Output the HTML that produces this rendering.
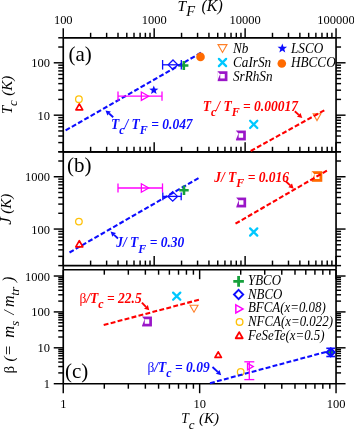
<!DOCTYPE html>
<html><head><meta charset="utf-8"><style>
html,body{margin:0;padding:0;background:#fff;}
svg{display:block;font-family:"Liberation Serif",serif;will-change:transform;}
</style></head><body>
<svg width="354" height="429" viewBox="0 0 354 429">
<line x1="63.25" y1="37.80" x2="63.25" y2="28.30" stroke="#000" stroke-width="1.45"/>
<line x1="90.62" y1="37.80" x2="90.62" y2="32.80" stroke="#000" stroke-width="1.45"/>
<line x1="106.64" y1="37.80" x2="106.64" y2="32.80" stroke="#000" stroke-width="1.45"/>
<line x1="118.00" y1="37.80" x2="118.00" y2="32.80" stroke="#000" stroke-width="1.45"/>
<line x1="126.81" y1="37.80" x2="126.81" y2="32.80" stroke="#000" stroke-width="1.45"/>
<line x1="134.01" y1="37.80" x2="134.01" y2="32.80" stroke="#000" stroke-width="1.45"/>
<line x1="140.10" y1="37.80" x2="140.10" y2="32.80" stroke="#000" stroke-width="1.45"/>
<line x1="145.37" y1="37.80" x2="145.37" y2="32.80" stroke="#000" stroke-width="1.45"/>
<line x1="150.02" y1="37.80" x2="150.02" y2="32.80" stroke="#000" stroke-width="1.45"/>
<line x1="154.18" y1="37.80" x2="154.18" y2="28.30" stroke="#000" stroke-width="1.45"/>
<line x1="181.56" y1="37.80" x2="181.56" y2="32.80" stroke="#000" stroke-width="1.45"/>
<line x1="197.57" y1="37.80" x2="197.57" y2="32.80" stroke="#000" stroke-width="1.45"/>
<line x1="208.93" y1="37.80" x2="208.93" y2="32.80" stroke="#000" stroke-width="1.45"/>
<line x1="217.74" y1="37.80" x2="217.74" y2="32.80" stroke="#000" stroke-width="1.45"/>
<line x1="224.94" y1="37.80" x2="224.94" y2="32.80" stroke="#000" stroke-width="1.45"/>
<line x1="231.03" y1="37.80" x2="231.03" y2="32.80" stroke="#000" stroke-width="1.45"/>
<line x1="236.30" y1="37.80" x2="236.30" y2="32.80" stroke="#000" stroke-width="1.45"/>
<line x1="240.96" y1="37.80" x2="240.96" y2="32.80" stroke="#000" stroke-width="1.45"/>
<line x1="245.12" y1="37.80" x2="245.12" y2="28.30" stroke="#000" stroke-width="1.45"/>
<line x1="272.49" y1="37.80" x2="272.49" y2="32.80" stroke="#000" stroke-width="1.45"/>
<line x1="288.50" y1="37.80" x2="288.50" y2="32.80" stroke="#000" stroke-width="1.45"/>
<line x1="299.86" y1="37.80" x2="299.86" y2="32.80" stroke="#000" stroke-width="1.45"/>
<line x1="308.68" y1="37.80" x2="308.68" y2="32.80" stroke="#000" stroke-width="1.45"/>
<line x1="315.88" y1="37.80" x2="315.88" y2="32.80" stroke="#000" stroke-width="1.45"/>
<line x1="321.96" y1="37.80" x2="321.96" y2="32.80" stroke="#000" stroke-width="1.45"/>
<line x1="327.24" y1="37.80" x2="327.24" y2="32.80" stroke="#000" stroke-width="1.45"/>
<line x1="331.89" y1="37.80" x2="331.89" y2="32.80" stroke="#000" stroke-width="1.45"/>
<line x1="336.05" y1="37.80" x2="336.05" y2="28.30" stroke="#000" stroke-width="1.45"/>
<line x1="63.25" y1="151.80" x2="63.25" y2="142.30" stroke="#000" stroke-width="1.45"/>
<line x1="90.62" y1="151.80" x2="90.62" y2="146.80" stroke="#000" stroke-width="1.45"/>
<line x1="106.64" y1="151.80" x2="106.64" y2="146.80" stroke="#000" stroke-width="1.45"/>
<line x1="118.00" y1="151.80" x2="118.00" y2="146.80" stroke="#000" stroke-width="1.45"/>
<line x1="126.81" y1="151.80" x2="126.81" y2="146.80" stroke="#000" stroke-width="1.45"/>
<line x1="134.01" y1="151.80" x2="134.01" y2="146.80" stroke="#000" stroke-width="1.45"/>
<line x1="140.10" y1="151.80" x2="140.10" y2="146.80" stroke="#000" stroke-width="1.45"/>
<line x1="145.37" y1="151.80" x2="145.37" y2="146.80" stroke="#000" stroke-width="1.45"/>
<line x1="150.02" y1="151.80" x2="150.02" y2="146.80" stroke="#000" stroke-width="1.45"/>
<line x1="154.18" y1="151.80" x2="154.18" y2="142.30" stroke="#000" stroke-width="1.45"/>
<line x1="181.56" y1="151.80" x2="181.56" y2="146.80" stroke="#000" stroke-width="1.45"/>
<line x1="197.57" y1="151.80" x2="197.57" y2="146.80" stroke="#000" stroke-width="1.45"/>
<line x1="208.93" y1="151.80" x2="208.93" y2="146.80" stroke="#000" stroke-width="1.45"/>
<line x1="217.74" y1="151.80" x2="217.74" y2="146.80" stroke="#000" stroke-width="1.45"/>
<line x1="224.94" y1="151.80" x2="224.94" y2="146.80" stroke="#000" stroke-width="1.45"/>
<line x1="231.03" y1="151.80" x2="231.03" y2="146.80" stroke="#000" stroke-width="1.45"/>
<line x1="236.30" y1="151.80" x2="236.30" y2="146.80" stroke="#000" stroke-width="1.45"/>
<line x1="240.96" y1="151.80" x2="240.96" y2="146.80" stroke="#000" stroke-width="1.45"/>
<line x1="245.12" y1="151.80" x2="245.12" y2="142.30" stroke="#000" stroke-width="1.45"/>
<line x1="272.49" y1="151.80" x2="272.49" y2="146.80" stroke="#000" stroke-width="1.45"/>
<line x1="288.50" y1="151.80" x2="288.50" y2="146.80" stroke="#000" stroke-width="1.45"/>
<line x1="299.86" y1="151.80" x2="299.86" y2="146.80" stroke="#000" stroke-width="1.45"/>
<line x1="308.68" y1="151.80" x2="308.68" y2="146.80" stroke="#000" stroke-width="1.45"/>
<line x1="315.88" y1="151.80" x2="315.88" y2="146.80" stroke="#000" stroke-width="1.45"/>
<line x1="321.96" y1="151.80" x2="321.96" y2="146.80" stroke="#000" stroke-width="1.45"/>
<line x1="327.24" y1="151.80" x2="327.24" y2="146.80" stroke="#000" stroke-width="1.45"/>
<line x1="331.89" y1="151.80" x2="331.89" y2="146.80" stroke="#000" stroke-width="1.45"/>
<line x1="336.05" y1="151.80" x2="336.05" y2="142.30" stroke="#000" stroke-width="1.45"/>
<line x1="63.25" y1="265.60" x2="63.25" y2="256.10" stroke="#000" stroke-width="1.45"/>
<line x1="90.62" y1="265.60" x2="90.62" y2="260.60" stroke="#000" stroke-width="1.45"/>
<line x1="106.64" y1="265.60" x2="106.64" y2="260.60" stroke="#000" stroke-width="1.45"/>
<line x1="118.00" y1="265.60" x2="118.00" y2="260.60" stroke="#000" stroke-width="1.45"/>
<line x1="126.81" y1="265.60" x2="126.81" y2="260.60" stroke="#000" stroke-width="1.45"/>
<line x1="134.01" y1="265.60" x2="134.01" y2="260.60" stroke="#000" stroke-width="1.45"/>
<line x1="140.10" y1="265.60" x2="140.10" y2="260.60" stroke="#000" stroke-width="1.45"/>
<line x1="145.37" y1="265.60" x2="145.37" y2="260.60" stroke="#000" stroke-width="1.45"/>
<line x1="150.02" y1="265.60" x2="150.02" y2="260.60" stroke="#000" stroke-width="1.45"/>
<line x1="154.18" y1="265.60" x2="154.18" y2="256.10" stroke="#000" stroke-width="1.45"/>
<line x1="181.56" y1="265.60" x2="181.56" y2="260.60" stroke="#000" stroke-width="1.45"/>
<line x1="197.57" y1="265.60" x2="197.57" y2="260.60" stroke="#000" stroke-width="1.45"/>
<line x1="208.93" y1="265.60" x2="208.93" y2="260.60" stroke="#000" stroke-width="1.45"/>
<line x1="217.74" y1="265.60" x2="217.74" y2="260.60" stroke="#000" stroke-width="1.45"/>
<line x1="224.94" y1="265.60" x2="224.94" y2="260.60" stroke="#000" stroke-width="1.45"/>
<line x1="231.03" y1="265.60" x2="231.03" y2="260.60" stroke="#000" stroke-width="1.45"/>
<line x1="236.30" y1="265.60" x2="236.30" y2="260.60" stroke="#000" stroke-width="1.45"/>
<line x1="240.96" y1="265.60" x2="240.96" y2="260.60" stroke="#000" stroke-width="1.45"/>
<line x1="245.12" y1="265.60" x2="245.12" y2="256.10" stroke="#000" stroke-width="1.45"/>
<line x1="272.49" y1="265.60" x2="272.49" y2="260.60" stroke="#000" stroke-width="1.45"/>
<line x1="288.50" y1="265.60" x2="288.50" y2="260.60" stroke="#000" stroke-width="1.45"/>
<line x1="299.86" y1="265.60" x2="299.86" y2="260.60" stroke="#000" stroke-width="1.45"/>
<line x1="308.68" y1="265.60" x2="308.68" y2="260.60" stroke="#000" stroke-width="1.45"/>
<line x1="315.88" y1="265.60" x2="315.88" y2="260.60" stroke="#000" stroke-width="1.45"/>
<line x1="321.96" y1="265.60" x2="321.96" y2="260.60" stroke="#000" stroke-width="1.45"/>
<line x1="327.24" y1="265.60" x2="327.24" y2="260.60" stroke="#000" stroke-width="1.45"/>
<line x1="331.89" y1="265.60" x2="331.89" y2="260.60" stroke="#000" stroke-width="1.45"/>
<line x1="336.05" y1="265.60" x2="336.05" y2="256.10" stroke="#000" stroke-width="1.45"/>
<line x1="63.25" y1="269.70" x2="63.25" y2="279.20" stroke="#000" stroke-width="1.45"/>
<line x1="104.31" y1="269.70" x2="104.31" y2="274.70" stroke="#000" stroke-width="1.45"/>
<line x1="128.33" y1="269.70" x2="128.33" y2="274.70" stroke="#000" stroke-width="1.45"/>
<line x1="145.37" y1="269.70" x2="145.37" y2="274.70" stroke="#000" stroke-width="1.45"/>
<line x1="158.59" y1="269.70" x2="158.59" y2="274.70" stroke="#000" stroke-width="1.45"/>
<line x1="169.39" y1="269.70" x2="169.39" y2="274.70" stroke="#000" stroke-width="1.45"/>
<line x1="178.52" y1="269.70" x2="178.52" y2="274.70" stroke="#000" stroke-width="1.45"/>
<line x1="186.43" y1="269.70" x2="186.43" y2="274.70" stroke="#000" stroke-width="1.45"/>
<line x1="193.41" y1="269.70" x2="193.41" y2="274.70" stroke="#000" stroke-width="1.45"/>
<line x1="199.65" y1="269.70" x2="199.65" y2="279.20" stroke="#000" stroke-width="1.45"/>
<line x1="240.71" y1="269.70" x2="240.71" y2="274.70" stroke="#000" stroke-width="1.45"/>
<line x1="264.73" y1="269.70" x2="264.73" y2="274.70" stroke="#000" stroke-width="1.45"/>
<line x1="281.77" y1="269.70" x2="281.77" y2="274.70" stroke="#000" stroke-width="1.45"/>
<line x1="294.99" y1="269.70" x2="294.99" y2="274.70" stroke="#000" stroke-width="1.45"/>
<line x1="305.79" y1="269.70" x2="305.79" y2="274.70" stroke="#000" stroke-width="1.45"/>
<line x1="314.92" y1="269.70" x2="314.92" y2="274.70" stroke="#000" stroke-width="1.45"/>
<line x1="322.83" y1="269.70" x2="322.83" y2="274.70" stroke="#000" stroke-width="1.45"/>
<line x1="329.81" y1="269.70" x2="329.81" y2="274.70" stroke="#000" stroke-width="1.45"/>
<line x1="336.05" y1="269.70" x2="336.05" y2="279.20" stroke="#000" stroke-width="1.45"/>
<line x1="63.25" y1="383.70" x2="63.25" y2="393.20" stroke="#000" stroke-width="1.45"/>
<line x1="104.31" y1="383.70" x2="104.31" y2="388.70" stroke="#000" stroke-width="1.45"/>
<line x1="128.33" y1="383.70" x2="128.33" y2="388.70" stroke="#000" stroke-width="1.45"/>
<line x1="145.37" y1="383.70" x2="145.37" y2="388.70" stroke="#000" stroke-width="1.45"/>
<line x1="158.59" y1="383.70" x2="158.59" y2="388.70" stroke="#000" stroke-width="1.45"/>
<line x1="169.39" y1="383.70" x2="169.39" y2="388.70" stroke="#000" stroke-width="1.45"/>
<line x1="178.52" y1="383.70" x2="178.52" y2="388.70" stroke="#000" stroke-width="1.45"/>
<line x1="186.43" y1="383.70" x2="186.43" y2="388.70" stroke="#000" stroke-width="1.45"/>
<line x1="193.41" y1="383.70" x2="193.41" y2="388.70" stroke="#000" stroke-width="1.45"/>
<line x1="199.65" y1="383.70" x2="199.65" y2="393.20" stroke="#000" stroke-width="1.45"/>
<line x1="240.71" y1="383.70" x2="240.71" y2="388.70" stroke="#000" stroke-width="1.45"/>
<line x1="264.73" y1="383.70" x2="264.73" y2="388.70" stroke="#000" stroke-width="1.45"/>
<line x1="281.77" y1="383.70" x2="281.77" y2="388.70" stroke="#000" stroke-width="1.45"/>
<line x1="294.99" y1="383.70" x2="294.99" y2="388.70" stroke="#000" stroke-width="1.45"/>
<line x1="305.79" y1="383.70" x2="305.79" y2="388.70" stroke="#000" stroke-width="1.45"/>
<line x1="314.92" y1="383.70" x2="314.92" y2="388.70" stroke="#000" stroke-width="1.45"/>
<line x1="322.83" y1="383.70" x2="322.83" y2="388.70" stroke="#000" stroke-width="1.45"/>
<line x1="329.81" y1="383.70" x2="329.81" y2="388.70" stroke="#000" stroke-width="1.45"/>
<line x1="336.05" y1="383.70" x2="336.05" y2="393.20" stroke="#000" stroke-width="1.45"/>
<line x1="63.25" y1="151.80" x2="58.25" y2="151.80" stroke="#000" stroke-width="1.45"/>
<line x1="336.05" y1="151.80" x2="341.05" y2="151.80" stroke="#000" stroke-width="1.45"/>
<line x1="63.25" y1="142.58" x2="58.25" y2="142.58" stroke="#000" stroke-width="1.45"/>
<line x1="336.05" y1="142.58" x2="341.05" y2="142.58" stroke="#000" stroke-width="1.45"/>
<line x1="63.25" y1="136.03" x2="58.25" y2="136.03" stroke="#000" stroke-width="1.45"/>
<line x1="336.05" y1="136.03" x2="341.05" y2="136.03" stroke="#000" stroke-width="1.45"/>
<line x1="63.25" y1="130.95" x2="58.25" y2="130.95" stroke="#000" stroke-width="1.45"/>
<line x1="336.05" y1="130.95" x2="341.05" y2="130.95" stroke="#000" stroke-width="1.45"/>
<line x1="63.25" y1="126.80" x2="58.25" y2="126.80" stroke="#000" stroke-width="1.45"/>
<line x1="336.05" y1="126.80" x2="341.05" y2="126.80" stroke="#000" stroke-width="1.45"/>
<line x1="63.25" y1="123.30" x2="58.25" y2="123.30" stroke="#000" stroke-width="1.45"/>
<line x1="336.05" y1="123.30" x2="341.05" y2="123.30" stroke="#000" stroke-width="1.45"/>
<line x1="63.25" y1="120.26" x2="58.25" y2="120.26" stroke="#000" stroke-width="1.45"/>
<line x1="336.05" y1="120.26" x2="341.05" y2="120.26" stroke="#000" stroke-width="1.45"/>
<line x1="63.25" y1="117.58" x2="58.25" y2="117.58" stroke="#000" stroke-width="1.45"/>
<line x1="336.05" y1="117.58" x2="341.05" y2="117.58" stroke="#000" stroke-width="1.45"/>
<line x1="63.25" y1="115.18" x2="53.75" y2="115.18" stroke="#000" stroke-width="1.45"/>
<line x1="336.05" y1="115.18" x2="345.55" y2="115.18" stroke="#000" stroke-width="1.45"/>
<line x1="63.25" y1="99.41" x2="58.25" y2="99.41" stroke="#000" stroke-width="1.45"/>
<line x1="336.05" y1="99.41" x2="341.05" y2="99.41" stroke="#000" stroke-width="1.45"/>
<line x1="63.25" y1="90.19" x2="58.25" y2="90.19" stroke="#000" stroke-width="1.45"/>
<line x1="336.05" y1="90.19" x2="341.05" y2="90.19" stroke="#000" stroke-width="1.45"/>
<line x1="63.25" y1="83.64" x2="58.25" y2="83.64" stroke="#000" stroke-width="1.45"/>
<line x1="336.05" y1="83.64" x2="341.05" y2="83.64" stroke="#000" stroke-width="1.45"/>
<line x1="63.25" y1="78.57" x2="58.25" y2="78.57" stroke="#000" stroke-width="1.45"/>
<line x1="336.05" y1="78.57" x2="341.05" y2="78.57" stroke="#000" stroke-width="1.45"/>
<line x1="63.25" y1="74.42" x2="58.25" y2="74.42" stroke="#000" stroke-width="1.45"/>
<line x1="336.05" y1="74.42" x2="341.05" y2="74.42" stroke="#000" stroke-width="1.45"/>
<line x1="63.25" y1="70.91" x2="58.25" y2="70.91" stroke="#000" stroke-width="1.45"/>
<line x1="336.05" y1="70.91" x2="341.05" y2="70.91" stroke="#000" stroke-width="1.45"/>
<line x1="63.25" y1="67.87" x2="58.25" y2="67.87" stroke="#000" stroke-width="1.45"/>
<line x1="336.05" y1="67.87" x2="341.05" y2="67.87" stroke="#000" stroke-width="1.45"/>
<line x1="63.25" y1="65.19" x2="58.25" y2="65.19" stroke="#000" stroke-width="1.45"/>
<line x1="336.05" y1="65.19" x2="341.05" y2="65.19" stroke="#000" stroke-width="1.45"/>
<line x1="63.25" y1="62.80" x2="53.75" y2="62.80" stroke="#000" stroke-width="1.45"/>
<line x1="336.05" y1="62.80" x2="345.55" y2="62.80" stroke="#000" stroke-width="1.45"/>
<line x1="63.25" y1="47.02" x2="58.25" y2="47.02" stroke="#000" stroke-width="1.45"/>
<line x1="336.05" y1="47.02" x2="341.05" y2="47.02" stroke="#000" stroke-width="1.45"/>
<line x1="63.25" y1="37.80" x2="58.25" y2="37.80" stroke="#000" stroke-width="1.45"/>
<line x1="336.05" y1="37.80" x2="341.05" y2="37.80" stroke="#000" stroke-width="1.45"/>
<line x1="63.25" y1="265.60" x2="58.25" y2="265.60" stroke="#000" stroke-width="1.45"/>
<line x1="336.05" y1="265.60" x2="341.05" y2="265.60" stroke="#000" stroke-width="1.45"/>
<line x1="63.25" y1="256.39" x2="58.25" y2="256.39" stroke="#000" stroke-width="1.45"/>
<line x1="336.05" y1="256.39" x2="341.05" y2="256.39" stroke="#000" stroke-width="1.45"/>
<line x1="63.25" y1="249.86" x2="58.25" y2="249.86" stroke="#000" stroke-width="1.45"/>
<line x1="336.05" y1="249.86" x2="341.05" y2="249.86" stroke="#000" stroke-width="1.45"/>
<line x1="63.25" y1="244.79" x2="58.25" y2="244.79" stroke="#000" stroke-width="1.45"/>
<line x1="336.05" y1="244.79" x2="341.05" y2="244.79" stroke="#000" stroke-width="1.45"/>
<line x1="63.25" y1="240.65" x2="58.25" y2="240.65" stroke="#000" stroke-width="1.45"/>
<line x1="336.05" y1="240.65" x2="341.05" y2="240.65" stroke="#000" stroke-width="1.45"/>
<line x1="63.25" y1="237.15" x2="58.25" y2="237.15" stroke="#000" stroke-width="1.45"/>
<line x1="336.05" y1="237.15" x2="341.05" y2="237.15" stroke="#000" stroke-width="1.45"/>
<line x1="63.25" y1="234.11" x2="58.25" y2="234.11" stroke="#000" stroke-width="1.45"/>
<line x1="336.05" y1="234.11" x2="341.05" y2="234.11" stroke="#000" stroke-width="1.45"/>
<line x1="63.25" y1="231.44" x2="58.25" y2="231.44" stroke="#000" stroke-width="1.45"/>
<line x1="336.05" y1="231.44" x2="341.05" y2="231.44" stroke="#000" stroke-width="1.45"/>
<line x1="63.25" y1="229.05" x2="53.75" y2="229.05" stroke="#000" stroke-width="1.45"/>
<line x1="336.05" y1="229.05" x2="345.55" y2="229.05" stroke="#000" stroke-width="1.45"/>
<line x1="63.25" y1="213.30" x2="58.25" y2="213.30" stroke="#000" stroke-width="1.45"/>
<line x1="336.05" y1="213.30" x2="341.05" y2="213.30" stroke="#000" stroke-width="1.45"/>
<line x1="63.25" y1="204.10" x2="58.25" y2="204.10" stroke="#000" stroke-width="1.45"/>
<line x1="336.05" y1="204.10" x2="341.05" y2="204.10" stroke="#000" stroke-width="1.45"/>
<line x1="63.25" y1="197.56" x2="58.25" y2="197.56" stroke="#000" stroke-width="1.45"/>
<line x1="336.05" y1="197.56" x2="341.05" y2="197.56" stroke="#000" stroke-width="1.45"/>
<line x1="63.25" y1="192.49" x2="58.25" y2="192.49" stroke="#000" stroke-width="1.45"/>
<line x1="336.05" y1="192.49" x2="341.05" y2="192.49" stroke="#000" stroke-width="1.45"/>
<line x1="63.25" y1="188.35" x2="58.25" y2="188.35" stroke="#000" stroke-width="1.45"/>
<line x1="336.05" y1="188.35" x2="341.05" y2="188.35" stroke="#000" stroke-width="1.45"/>
<line x1="63.25" y1="184.85" x2="58.25" y2="184.85" stroke="#000" stroke-width="1.45"/>
<line x1="336.05" y1="184.85" x2="341.05" y2="184.85" stroke="#000" stroke-width="1.45"/>
<line x1="63.25" y1="181.82" x2="58.25" y2="181.82" stroke="#000" stroke-width="1.45"/>
<line x1="336.05" y1="181.82" x2="341.05" y2="181.82" stroke="#000" stroke-width="1.45"/>
<line x1="63.25" y1="179.14" x2="58.25" y2="179.14" stroke="#000" stroke-width="1.45"/>
<line x1="336.05" y1="179.14" x2="341.05" y2="179.14" stroke="#000" stroke-width="1.45"/>
<line x1="63.25" y1="176.75" x2="53.75" y2="176.75" stroke="#000" stroke-width="1.45"/>
<line x1="336.05" y1="176.75" x2="345.55" y2="176.75" stroke="#000" stroke-width="1.45"/>
<line x1="63.25" y1="161.01" x2="58.25" y2="161.01" stroke="#000" stroke-width="1.45"/>
<line x1="336.05" y1="161.01" x2="341.05" y2="161.01" stroke="#000" stroke-width="1.45"/>
<line x1="63.25" y1="151.80" x2="58.25" y2="151.80" stroke="#000" stroke-width="1.45"/>
<line x1="336.05" y1="151.80" x2="341.05" y2="151.80" stroke="#000" stroke-width="1.45"/>
<line x1="63.25" y1="383.70" x2="53.75" y2="383.70" stroke="#000" stroke-width="1.45"/>
<line x1="336.05" y1="383.70" x2="345.55" y2="383.70" stroke="#000" stroke-width="1.45"/>
<line x1="63.25" y1="372.90" x2="58.25" y2="372.90" stroke="#000" stroke-width="1.45"/>
<line x1="336.05" y1="372.90" x2="341.05" y2="372.90" stroke="#000" stroke-width="1.45"/>
<line x1="63.25" y1="366.57" x2="58.25" y2="366.57" stroke="#000" stroke-width="1.45"/>
<line x1="336.05" y1="366.57" x2="341.05" y2="366.57" stroke="#000" stroke-width="1.45"/>
<line x1="63.25" y1="362.09" x2="58.25" y2="362.09" stroke="#000" stroke-width="1.45"/>
<line x1="336.05" y1="362.09" x2="341.05" y2="362.09" stroke="#000" stroke-width="1.45"/>
<line x1="63.25" y1="358.61" x2="58.25" y2="358.61" stroke="#000" stroke-width="1.45"/>
<line x1="336.05" y1="358.61" x2="341.05" y2="358.61" stroke="#000" stroke-width="1.45"/>
<line x1="63.25" y1="355.77" x2="58.25" y2="355.77" stroke="#000" stroke-width="1.45"/>
<line x1="336.05" y1="355.77" x2="341.05" y2="355.77" stroke="#000" stroke-width="1.45"/>
<line x1="63.25" y1="353.37" x2="58.25" y2="353.37" stroke="#000" stroke-width="1.45"/>
<line x1="336.05" y1="353.37" x2="341.05" y2="353.37" stroke="#000" stroke-width="1.45"/>
<line x1="63.25" y1="351.29" x2="58.25" y2="351.29" stroke="#000" stroke-width="1.45"/>
<line x1="336.05" y1="351.29" x2="341.05" y2="351.29" stroke="#000" stroke-width="1.45"/>
<line x1="63.25" y1="349.45" x2="58.25" y2="349.45" stroke="#000" stroke-width="1.45"/>
<line x1="336.05" y1="349.45" x2="341.05" y2="349.45" stroke="#000" stroke-width="1.45"/>
<line x1="63.25" y1="347.81" x2="53.75" y2="347.81" stroke="#000" stroke-width="1.45"/>
<line x1="336.05" y1="347.81" x2="345.55" y2="347.81" stroke="#000" stroke-width="1.45"/>
<line x1="63.25" y1="337.00" x2="58.25" y2="337.00" stroke="#000" stroke-width="1.45"/>
<line x1="336.05" y1="337.00" x2="341.05" y2="337.00" stroke="#000" stroke-width="1.45"/>
<line x1="63.25" y1="330.68" x2="58.25" y2="330.68" stroke="#000" stroke-width="1.45"/>
<line x1="336.05" y1="330.68" x2="341.05" y2="330.68" stroke="#000" stroke-width="1.45"/>
<line x1="63.25" y1="326.20" x2="58.25" y2="326.20" stroke="#000" stroke-width="1.45"/>
<line x1="336.05" y1="326.20" x2="341.05" y2="326.20" stroke="#000" stroke-width="1.45"/>
<line x1="63.25" y1="322.72" x2="58.25" y2="322.72" stroke="#000" stroke-width="1.45"/>
<line x1="336.05" y1="322.72" x2="341.05" y2="322.72" stroke="#000" stroke-width="1.45"/>
<line x1="63.25" y1="319.88" x2="58.25" y2="319.88" stroke="#000" stroke-width="1.45"/>
<line x1="336.05" y1="319.88" x2="341.05" y2="319.88" stroke="#000" stroke-width="1.45"/>
<line x1="63.25" y1="317.47" x2="58.25" y2="317.47" stroke="#000" stroke-width="1.45"/>
<line x1="336.05" y1="317.47" x2="341.05" y2="317.47" stroke="#000" stroke-width="1.45"/>
<line x1="63.25" y1="315.39" x2="58.25" y2="315.39" stroke="#000" stroke-width="1.45"/>
<line x1="336.05" y1="315.39" x2="341.05" y2="315.39" stroke="#000" stroke-width="1.45"/>
<line x1="63.25" y1="313.56" x2="58.25" y2="313.56" stroke="#000" stroke-width="1.45"/>
<line x1="336.05" y1="313.56" x2="341.05" y2="313.56" stroke="#000" stroke-width="1.45"/>
<line x1="63.25" y1="311.91" x2="53.75" y2="311.91" stroke="#000" stroke-width="1.45"/>
<line x1="336.05" y1="311.91" x2="345.55" y2="311.91" stroke="#000" stroke-width="1.45"/>
<line x1="63.25" y1="301.11" x2="58.25" y2="301.11" stroke="#000" stroke-width="1.45"/>
<line x1="336.05" y1="301.11" x2="341.05" y2="301.11" stroke="#000" stroke-width="1.45"/>
<line x1="63.25" y1="294.79" x2="58.25" y2="294.79" stroke="#000" stroke-width="1.45"/>
<line x1="336.05" y1="294.79" x2="341.05" y2="294.79" stroke="#000" stroke-width="1.45"/>
<line x1="63.25" y1="290.30" x2="58.25" y2="290.30" stroke="#000" stroke-width="1.45"/>
<line x1="336.05" y1="290.30" x2="341.05" y2="290.30" stroke="#000" stroke-width="1.45"/>
<line x1="63.25" y1="286.83" x2="58.25" y2="286.83" stroke="#000" stroke-width="1.45"/>
<line x1="336.05" y1="286.83" x2="341.05" y2="286.83" stroke="#000" stroke-width="1.45"/>
<line x1="63.25" y1="283.98" x2="58.25" y2="283.98" stroke="#000" stroke-width="1.45"/>
<line x1="336.05" y1="283.98" x2="341.05" y2="283.98" stroke="#000" stroke-width="1.45"/>
<line x1="63.25" y1="281.58" x2="58.25" y2="281.58" stroke="#000" stroke-width="1.45"/>
<line x1="336.05" y1="281.58" x2="341.05" y2="281.58" stroke="#000" stroke-width="1.45"/>
<line x1="63.25" y1="279.50" x2="58.25" y2="279.50" stroke="#000" stroke-width="1.45"/>
<line x1="336.05" y1="279.50" x2="341.05" y2="279.50" stroke="#000" stroke-width="1.45"/>
<line x1="63.25" y1="277.66" x2="58.25" y2="277.66" stroke="#000" stroke-width="1.45"/>
<line x1="336.05" y1="277.66" x2="341.05" y2="277.66" stroke="#000" stroke-width="1.45"/>
<line x1="63.25" y1="276.02" x2="53.75" y2="276.02" stroke="#000" stroke-width="1.45"/>
<line x1="336.05" y1="276.02" x2="345.55" y2="276.02" stroke="#000" stroke-width="1.45"/>
<line x1="63.25" y1="37.80" x2="336.05" y2="37.80" stroke="#000" stroke-width="1.65"/>
<line x1="63.25" y1="151.80" x2="336.05" y2="151.80" stroke="#000" stroke-width="1.65"/>
<line x1="63.25" y1="37.80" x2="63.25" y2="151.80" stroke="#000" stroke-width="1.65"/>
<line x1="336.05" y1="37.80" x2="336.05" y2="151.80" stroke="#000" stroke-width="1.65"/>
<line x1="63.25" y1="151.80" x2="336.05" y2="151.80" stroke="#000" stroke-width="1.65"/>
<line x1="63.25" y1="265.60" x2="336.05" y2="265.60" stroke="#000" stroke-width="1.65"/>
<line x1="63.25" y1="151.80" x2="63.25" y2="265.60" stroke="#000" stroke-width="1.65"/>
<line x1="336.05" y1="151.80" x2="336.05" y2="265.60" stroke="#000" stroke-width="1.65"/>
<line x1="63.25" y1="269.70" x2="336.05" y2="269.70" stroke="#000" stroke-width="1.65"/>
<line x1="63.25" y1="383.70" x2="336.05" y2="383.70" stroke="#000" stroke-width="1.65"/>
<line x1="63.25" y1="269.70" x2="63.25" y2="383.70" stroke="#000" stroke-width="1.65"/>
<line x1="336.05" y1="269.70" x2="336.05" y2="383.70" stroke="#000" stroke-width="1.65"/>
<line x1="63.25" y1="265.60" x2="63.25" y2="269.70" stroke="#000" stroke-width="1.65"/>
<line x1="336.05" y1="265.60" x2="336.05" y2="269.70" stroke="#000" stroke-width="1.65"/>
<text transform="translate(63.25,23.90) scale(1,1.07)" text-anchor="middle" font-size="12.5" fill="#000"  >100</text>
<text transform="translate(154.18,23.90) scale(1,1.07)" text-anchor="middle" font-size="12.5" fill="#000"  >1000</text>
<text transform="translate(245.12,23.90) scale(1,1.07)" text-anchor="middle" font-size="12.5" fill="#000"  >10000</text>
<text transform="translate(336.05,23.90) scale(1,1.07)" text-anchor="middle" font-size="12.5" fill="#000"  >100000</text>
<text transform="translate(63.25,408.40) scale(1,1.07)" text-anchor="middle" font-size="12.5" fill="#000"  >1</text>
<text transform="translate(199.65,408.40) scale(1,1.07)" text-anchor="middle" font-size="12.5" fill="#000"  >10</text>
<text transform="translate(336.05,408.40) scale(1,1.07)" text-anchor="middle" font-size="12.5" fill="#000"  >100</text>
<text transform="translate(50.00,67.30) scale(1,1.07)" text-anchor="end" font-size="12.5" fill="#000"  >100</text>
<text transform="translate(50.00,119.68) scale(1,1.07)" text-anchor="end" font-size="12.5" fill="#000"  >10</text>
<text transform="translate(50.00,181.25) scale(1,1.07)" text-anchor="end" font-size="12.5" fill="#000"  >1000</text>
<text transform="translate(50.00,233.55) scale(1,1.07)" text-anchor="end" font-size="12.5" fill="#000"  >100</text>
<text transform="translate(50.00,280.52) scale(1,1.07)" text-anchor="end" font-size="12.5" fill="#000"  >1000</text>
<text transform="translate(50.00,316.41) scale(1,1.07)" text-anchor="end" font-size="12.5" fill="#000"  >100</text>
<text transform="translate(50.00,352.31) scale(1,1.07)" text-anchor="end" font-size="12.5" fill="#000"  >10</text>
<text transform="translate(50.00,388.20) scale(1,1.07)" text-anchor="end" font-size="12.5" fill="#000"  >1</text>
<text x="177.6" y="11.0" font-size="15.5" font-style="italic">T<tspan font-size="14.5" dy="4.8">F</tspan></text>
<text x="201.6" y="11.2" font-size="15.8" font-style="italic">(K)</text>
<text x="181.3" y="423.2" font-size="13.6" font-style="italic">T<tspan font-size="13" dy="5.6">c</tspan></text>
<text x="198.9" y="423.3" font-size="15" font-style="italic">(K)</text>
<text transform="translate(12.4,114) rotate(-90)" font-size="14.5" font-style="italic">T<tspan font-size="13" dy="5">c</tspan><tspan dy="-5" dx="4.5" font-size="15">(K)</tspan></text>
<text transform="translate(10.6,224.8) rotate(-90)" font-size="17" font-style="italic">J<tspan dx="3.6" font-size="15">(K)</tspan></text>
<g transform="translate(14,373.3) rotate(-90)" font-size="15"><text x="-0.2" y="0">β</text><text x="11.8" y="0" font-style="italic">(</text><text x="18.3" y="0" font-size="16.5">=</text><text x="35.5" y="0" font-size="16.5" font-style="italic">m</text><text x="47.3" y="4.5" font-size="13" font-style="italic">s</text><text x="58.8" y="0" font-style="italic">/</text><text x="66.2" y="0" font-size="16" font-style="italic">m</text><text x="77.6" y="4.7" font-size="13.5" font-style="italic">tr</text><text x="91.4" y="0" font-size="16" font-style="italic">)</text></g>
<text x="68.5" y="60.5" font-size="21">(a)</text>
<text x="67" y="172" font-size="21">(b)</text>
<text x="65" y="377.5" font-size="21">(c)</text>
<line x1="65.6" y1="130.4" x2="202.5" y2="51.9" stroke="#0d0dff" stroke-width="2.1" stroke-dasharray="4.9,2.3"/>
<circle cx="78.9" cy="99.2" r="3.3" fill="none" stroke="#ffc20a" stroke-width="1.3"/>
<path d="M79.3,103.89999999999999 L82.7,109.85 L75.89999999999999,109.85 Z" fill="none" stroke="#ff0000" stroke-width="1.7" stroke-linejoin="round"/>
<line x1="118.00" y1="96.20" x2="162.00" y2="96.20" stroke="#ff00ff" stroke-width="1.3"/>
<line x1="118.00" y1="91.60" x2="118.00" y2="100.80" stroke="#ff00ff" stroke-width="1.3"/>
<line x1="162.00" y1="91.60" x2="162.00" y2="100.80" stroke="#ff00ff" stroke-width="1.3"/>
<path d="M141.35,92.0 L148.7,96.2 L141.35,100.4 Z" fill="none" stroke="#ff00ff" stroke-width="1.3"/>
<polygon points="153.80,85.40 154.98,88.57 158.37,88.72 155.72,90.82 156.62,94.08 153.80,92.22 150.98,94.08 151.88,90.82 149.23,88.72 152.62,88.57" fill="#0d0dff"/>
<path d="M179.20000000000002,65.5 L188.4,65.5 M183.8,60.9 L183.8,70.1" stroke="#16a03c" stroke-width="2.6"/>
<line x1="162.60" y1="64.80" x2="181.30" y2="64.80" stroke="#0d0dff" stroke-width="1.3"/>
<line x1="162.60" y1="60.00" x2="162.60" y2="69.60" stroke="#0d0dff" stroke-width="1.3"/>
<line x1="181.30" y1="60.00" x2="181.30" y2="69.60" stroke="#0d0dff" stroke-width="1.3"/>
<path d="M173.0,60.0 L177.8,64.8 L173.0,69.6 L168.2,64.8 Z" fill="none" stroke="#0d0dff" stroke-width="1.3"/>
<circle cx="200.5" cy="56.9" r="4.3" fill="#ff6a00" stroke="#ff6a00" stroke-width="0"/>
<path d="M313.1,113.775 L320.9,113.775 L317.0,120.60000000000001 Z" fill="none" stroke="#ff7f27" stroke-width="1.1"/>
<line x1="250.7" y1="151.0" x2="325.2" y2="109.8" stroke="#ff0000" stroke-width="2.1" stroke-dasharray="4.9,2.3"/>
<path d="M250.1,120.80000000000001 L257.3,128.0 M257.3,120.80000000000001 L250.1,128.0" stroke="#00c8ff" stroke-width="2.3" stroke-linecap="round"/>
<rect x="237.30" y="131.90" width="7.20" height="7.20" fill="none" stroke="#9a16c8" stroke-width="2.7"/>
<path d="M235.75,130.45 L238.45,133.45 L235.55,140.45 Z" fill="#fff"/>
<line x1="113.2" y1="117.2" x2="109.10" y2="113.58" stroke="#0d0dff" stroke-width="1.9"/>
<path d="M105.5,110.4 L110.85,111.60 L107.35,115.56 Z" fill="#0d0dff"/>
<line x1="294.8" y1="111.3" x2="298.74" y2="114.88" stroke="#ff0000" stroke-width="1.9"/>
<path d="M302.3,118.1 L296.97,116.83 L300.52,112.92 Z" fill="#ff0000"/>
<text transform="translate(110.9,129.3) scale(1,1.07)" font-size="13.5" fill="#0d0dff" font-weight="bold" font-style="italic">T<tspan font-size="12" dy="4.4">c</tspan><tspan dy="-4.4">/ T</tspan><tspan font-size="12" dy="4.4">F</tspan><tspan dy="-4.4"> = 0.047</tspan></text>
<text transform="translate(202.7,110.8) scale(1,1.07)" font-size="13.5" fill="#ff0000" font-weight="bold" font-style="italic">T<tspan font-size="12" dy="4.4">c</tspan><tspan dy="-4.4">/ T</tspan><tspan font-size="12" dy="4.4">F</tspan><tspan dy="-4.4"> = 0.00017</tspan></text>
<path d="M218.0,44.625 L227.0,44.625 L222.5,52.5 Z" fill="none" stroke="#ff7f27" stroke-width="1.1"/>
<path d="M218.9,58.9 L226.1,66.1 M226.1,58.9 L218.9,66.1" stroke="#00c8ff" stroke-width="2.3" stroke-linecap="round"/>
<rect x="218.90" y="72.60" width="7.20" height="7.20" fill="none" stroke="#9a16c8" stroke-width="2.7"/>
<path d="M217.35,71.15 L220.05,74.15 L217.15,81.15 Z" fill="#fff"/>
<polygon points="282.30,43.40 283.53,46.70 287.06,46.85 284.30,49.05 285.24,52.45 282.30,50.50 279.36,52.45 280.30,49.05 277.54,46.85 281.07,46.70" fill="#0d0dff"/>
<circle cx="281.8" cy="63.5" r="4.3" fill="#ff6a00" stroke="#ff6a00" stroke-width="0"/>
<text transform="translate(233,53.3) scale(1,1.07)" font-size="13.2" font-style="italic">Nb</text>
<text transform="translate(233,67.1) scale(1,1.07)" font-size="13.2" font-style="italic">CaIrSn</text>
<text transform="translate(233,80.9) scale(1,1.07)" font-size="13.2" font-style="italic">SrRhSn</text>
<text transform="translate(291,53.3) scale(1,1.07)" font-size="13.2" font-style="italic">LSCO</text>
<text transform="translate(291,67.1) scale(1,1.07)" font-size="13.2" font-style="italic">HBCCO</text>
<line x1="69.5" y1="252.5" x2="198.7" y2="178.0" stroke="#0d0dff" stroke-width="2.1" stroke-dasharray="4.9,2.3"/>
<circle cx="78.9" cy="221.6" r="3.3" fill="none" stroke="#ffc20a" stroke-width="1.3"/>
<path d="M79.3,240.7 L82.8,246.825 L75.8,246.825 Z" fill="none" stroke="#ff0000" stroke-width="1.7" stroke-linejoin="round"/>
<line x1="118.00" y1="188.00" x2="162.50" y2="188.00" stroke="#ff00ff" stroke-width="1.3"/>
<line x1="118.00" y1="183.40" x2="118.00" y2="192.60" stroke="#ff00ff" stroke-width="1.3"/>
<line x1="162.50" y1="183.40" x2="162.50" y2="192.60" stroke="#ff00ff" stroke-width="1.3"/>
<path d="M141.35,183.8 L148.7,188.0 L141.35,192.2 Z" fill="none" stroke="#ff00ff" stroke-width="1.3"/>
<line x1="162.80" y1="196.40" x2="181.20" y2="196.40" stroke="#0d0dff" stroke-width="1.3"/>
<line x1="162.80" y1="192.50" x2="162.80" y2="200.30" stroke="#0d0dff" stroke-width="1.3"/>
<line x1="181.20" y1="192.50" x2="181.20" y2="200.30" stroke="#0d0dff" stroke-width="1.3"/>
<path d="M172.7,191.6 L177.5,196.4 L172.7,201.20000000000002 L167.89999999999998,196.4 Z" fill="none" stroke="#0d0dff" stroke-width="1.3"/>
<path d="M179.3,190.3 L188.7,190.3 M184.0,185.60000000000002 L184.0,195.0" stroke="#16a03c" stroke-width="2.6"/>
<rect x="237.60" y="198.90" width="7.20" height="7.20" fill="none" stroke="#9a16c8" stroke-width="2.7"/>
<path d="M236.05,197.45 L238.75,200.45 L235.85,207.45 Z" fill="#fff"/>
<path d="M250.1,228.4 L257.3,235.6 M257.3,228.4 L250.1,235.6" stroke="#00c8ff" stroke-width="2.3" stroke-linecap="round"/>
<rect x="313.10" y="172.60" width="7.80" height="7.80" fill="none" stroke="#ff6a00" stroke-width="2.8"/>
<path d="M311.50,171.10 L314.30,174.20 L311.30,181.80 Z" fill="#fff"/>
<line x1="235.5" y1="223.7" x2="328.0" y2="170.0" stroke="#ff0000" stroke-width="2.1" stroke-dasharray="4.9,2.3"/>
<line x1="118.0" y1="238.5" x2="114.11" y2="234.87" stroke="#0d0dff" stroke-width="1.9"/>
<path d="M110.6,231.6 L115.91,232.94 L112.31,236.80 Z" fill="#0d0dff"/>
<line x1="285.5" y1="181.0" x2="290.20" y2="185.41" stroke="#ff0000" stroke-width="1.9"/>
<path d="M293.7,188.7 L288.39,187.34 L292.01,183.49 Z" fill="#ff0000"/>
<text transform="translate(116.2,247.2) scale(1,1.07)" font-size="13.5" fill="#0d0dff" font-weight="bold" font-style="italic">J/ T<tspan font-size="12" dy="5.2">F</tspan><tspan dy="-5.2"> = 0.30</tspan></text>
<text transform="translate(214.2,181.6) scale(1,1.07)" font-size="13.5" fill="#ff0000" font-weight="bold" font-style="italic">J/ T<tspan font-size="12" dy="5.4">F</tspan><tspan dy="-5.4"> = 0.016</tspan></text>
<circle cx="240.7" cy="372.0" r="3.3" fill="none" stroke="#ffc20a" stroke-width="1.3"/>
<line x1="103.7" y1="325.0" x2="200.0" y2="299.5" stroke="#ff0000" stroke-width="2.1" stroke-dasharray="4.9,2.3"/>
<line x1="210.0" y1="383.2" x2="334.0" y2="349.8" stroke="#0d0dff" stroke-width="2.1" stroke-dasharray="4.9,2.3"/>
<rect x="143.40" y="317.90" width="7.20" height="7.20" fill="none" stroke="#9a16c8" stroke-width="2.7"/>
<path d="M141.85,316.45 L144.55,319.45 L141.65,326.45 Z" fill="#fff"/>
<path d="M173.1,292.59999999999997 L180.29999999999998,299.8 M180.29999999999998,292.59999999999997 L173.1,299.8" stroke="#00c8ff" stroke-width="2.3" stroke-linecap="round"/>
<path d="M190.0,305.2 L198.0,305.2 L194.0,312.2 Z" fill="none" stroke="#ff7f27" stroke-width="1.1"/>
<path d="M218.2,351.8 L221.39999999999998,357.4 L215.0,357.4 Z" fill="none" stroke="#ff0000" stroke-width="1.7" stroke-linejoin="round"/>
<line x1="249.30" y1="361.80" x2="249.30" y2="379.60" stroke="#ff00ff" stroke-width="1.3"/>
<line x1="244.30" y1="361.80" x2="254.30" y2="361.80" stroke="#ff00ff" stroke-width="1.3"/>
<line x1="244.30" y1="379.60" x2="254.30" y2="379.60" stroke="#ff00ff" stroke-width="1.3"/>
<path d="M247.525,363.3 L253.3,366.6 L247.525,369.90000000000003 Z" fill="none" stroke="#ff00ff" stroke-width="1.3"/>
<path d="M326.5,352.3 L334.9,352.3 M330.7,348.1 L330.7,356.5" stroke="#16a03c" stroke-width="2.6"/>
<line x1="330.70" y1="348.30" x2="330.70" y2="356.50" stroke="#0d0dff" stroke-width="1.6"/>
<line x1="326.30" y1="348.30" x2="335.10" y2="348.30" stroke="#0d0dff" stroke-width="1.6"/>
<line x1="326.30" y1="356.50" x2="335.10" y2="356.50" stroke="#0d0dff" stroke-width="1.6"/>
<path d="M330.7,348.3 L334.7,352.3 L330.7,356.3 L326.7,352.3 Z" fill="none" stroke="#0d0dff" stroke-width="2.0"/>
<line x1="141.9" y1="302.6" x2="145.97" y2="306.84" stroke="#ff0000" stroke-width="1.9"/>
<path d="M149.3,310.3 L144.07,308.67 L147.88,305.01 Z" fill="#ff0000"/>
<line x1="212.5" y1="367.0" x2="217.71" y2="371.91" stroke="#0d0dff" stroke-width="1.9"/>
<path d="M221.2,375.2 L215.90,373.83 L219.52,369.99 Z" fill="#0d0dff"/>
<text transform="translate(79.5,302.9) scale(1,1.07)" font-size="13.5" fill="#ff0000" font-weight="bold" font-style="italic"><tspan font-weight="normal" font-style="normal">β</tspan>/T<tspan font-size="12" dy="4.8">c</tspan><tspan dy="-4.8"> = 22.5</tspan></text>
<text transform="translate(147.5,371.9) scale(1,1.07)" font-size="13.5" fill="#0d0dff" font-weight="bold" font-style="italic"><tspan font-weight="normal" font-style="normal">β</tspan>/T<tspan font-size="12" dy="4.8">c</tspan><tspan dy="-4.8"> = 0.09</tspan></text>
<path d="M233.29999999999998,281.4 L243.9,281.4 M238.6,276.09999999999997 L238.6,286.7" stroke="#16a03c" stroke-width="2.8"/>
<path d="M238.6,289.9 L243.2,294.5 L238.6,299.1 L234.0,294.5 Z" fill="none" stroke="#0d0dff" stroke-width="1.9"/>
<path d="M235.82500000000002,304.79999999999995 L243.0,308.9 L235.82500000000002,313.0 Z" fill="none" stroke="#ff00ff" stroke-width="1.5"/>
<circle cx="239.6" cy="321.9" r="3.3" fill="none" stroke="#ffc20a" stroke-width="1.4"/>
<path d="M239.2,332.1 L242.7,338.225 L235.7,338.225 Z" fill="none" stroke="#ff0000" stroke-width="1.8" stroke-linejoin="round"/>
<text transform="translate(248,284.7) scale(1,1.07)" font-size="12.9" font-style="italic">YBCO</text>
<text transform="translate(248,298.5) scale(1,1.07)" font-size="12.9" font-style="italic">NBCO</text>
<text transform="translate(248,312.3) scale(1,1.07)" font-size="12.9" font-style="italic">BFCA(x=0.08)</text>
<text transform="translate(248,326.1) scale(1,1.07)" font-size="12.9" font-style="italic">NFCA(x=0.022)</text>
<text transform="translate(248,339.9) scale(1,1.07)" font-size="12.9" font-style="italic">FeSeTe(x=0.5)</text>
</svg>
</body></html>
